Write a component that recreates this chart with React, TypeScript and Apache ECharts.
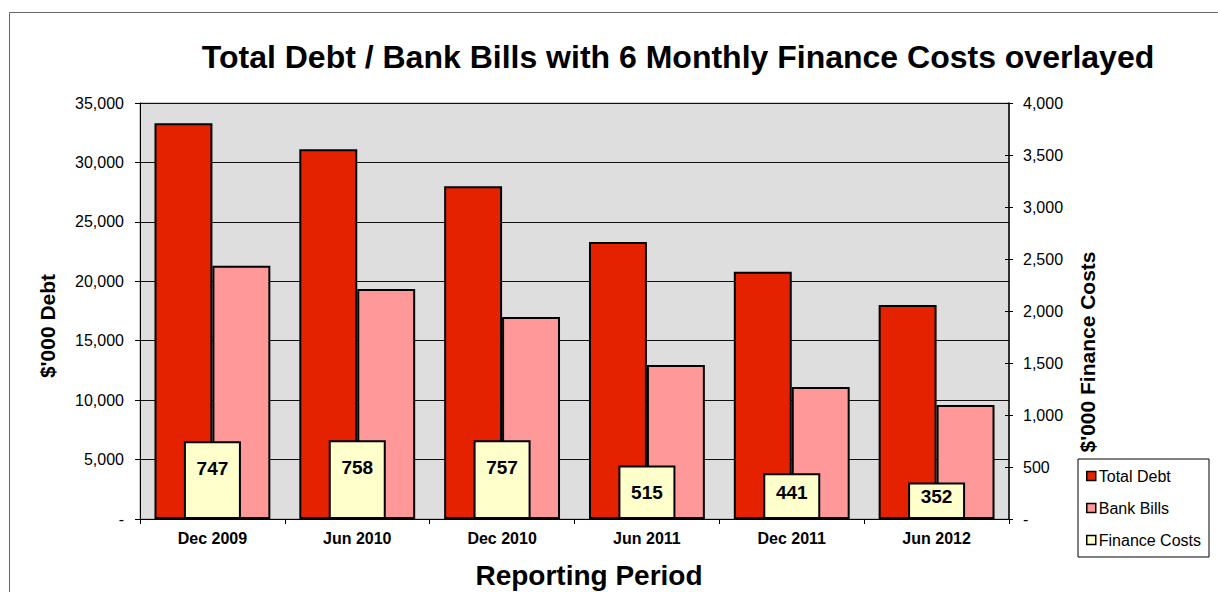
import React, { useEffect, useRef } from "react";
import * as echarts from "echarts";

const categories = ["Dec 2009", "Jun 2010", "Dec 2010", "Jun 2011", "Dec 2011", "Jun 2012"];
const totalDebt = [33300, 31100, 28000, 23300, 20800, 18000];
const bankBills = [21300, 19350, 17000, 12950, 11100, 9600];
const financeCosts = [747, 758, 757, 515, 441, 352];

const debtAxis = { min: 0, max: 35000, interval: 5000 };
const costAxis = { min: 0, max: 4000, interval: 500 };

const FONT = "'Liberation Sans', Arial, sans-serif";
const fmt = (v: number) => (v === 0 ? "-" : v.toLocaleString("en-US"));

export default function App() {
  const ref = useRef<HTMLDivElement>(null);

  useEffect(() => {
    if (!ref.current) return;
    const chart = echarts.init(ref.current, null, { renderer: "svg" });
    const option = {
      animation: false,
      textStyle: { fontFamily: FONT },
      grid: {
        left: 140,
        top: 103,
        right: 209,
        bottom: 73,
        show: true,
        backgroundColor: "#dedede",
        borderColor: "#999",
        borderWidth: 1,
      },
      legend: {
        orient: "vertical",
        left: 1078,
        top: 459,
        icon: "rect",
        itemWidth: 9,
        itemHeight: 9,
        itemGap: 14,
        padding: [8, 8, 8, 8],
        borderColor: "#000",
        borderWidth: 1,
        backgroundColor: "#fff",
        itemStyle: { borderColor: "#000", borderWidth: 1.5 },
        textStyle: { fontFamily: FONT, fontSize: 16, color: "#000", lineHeight: 18, padding: [0, 0, 0, -2] },
        data: ["Total Debt", "Bank Bills", "Finance Costs"],
      },
      xAxis: [
        {
          type: "category",
          data: categories,
          axisLine: { lineStyle: { color: "#000", width: 1 } },
          axisTick: { show: true, length: 5, lineStyle: { color: "#000" } },
          axisLabel: { fontFamily: FONT, fontSize: 16, fontWeight: "bold", color: "#000", margin: 11 },
        },
        { type: "category", data: categories, show: false },
      ],
      yAxis: [
        {
          type: "value",
          position: "left",
          ...debtAxis,
          axisLine: { show: true, lineStyle: { color: "#000", width: 1 } },
          axisTick: { show: true, length: 5, lineStyle: { color: "#000" } },
          axisLabel: { fontFamily: FONT, fontSize: 16, color: "#000", margin: 16, formatter: fmt },
          splitLine: { show: true, lineStyle: { color: "#111", width: 1 } },
        },
        {
          type: "value",
          position: "right",
          ...costAxis,
          axisLine: { show: true, lineStyle: { color: "#000", width: 1.5 } },
          axisTick: { show: true, length: 4, lineStyle: { color: "#000" } },
          axisLabel: { fontFamily: FONT, fontSize: 16, color: "#000", margin: 14, formatter: fmt },
          splitLine: { show: false },
        },
        {
          type: "value",
          position: "right",
          ...costAxis,
          axisLine: { show: false },
          axisTick: { show: true, inside: true, length: 4, lineStyle: { color: "#000" } },
          axisLabel: { show: false },
          splitLine: { show: false },
        },
      ],
      series: [
        {
          name: "Total Debt",
          type: "bar",
          xAxisIndex: 0,
          yAxisIndex: 0,
          data: totalDebt,
          barGap: "0%",
          barCategoryGap: "20%",
          itemStyle: { color: "#e52200", borderColor: "#000", borderWidth: 2 },
        },
        {
          name: "Bank Bills",
          type: "bar",
          xAxisIndex: 0,
          yAxisIndex: 0,
          data: bankBills,
          barGap: "0%",
          barCategoryGap: "20%",
          itemStyle: { color: "#ff9999", borderColor: "#000", borderWidth: 2 },
        },
        {
          name: "Finance Costs",
          type: "bar",
          xAxisIndex: 1,
          yAxisIndex: 1,
          barWidth: 57,
          data: financeCosts.map((v) => ({
            value: v,
            label: v >= 500 ? { position: "insideTop", distance: 18 } : { position: "inside", offset: [0, -4] },
          })),
          itemStyle: { color: "#ffffcc", borderColor: "#000", borderWidth: 2 },
          label: {
            show: true,
            fontFamily: FONT,
            fontSize: 19,
            fontWeight: "bold",
            color: "#000",
          },
        },
      ],
      graphic: [
        {
          type: "rect",
          z: -10,
          silent: true,
          shape: { x: 9.5, y: 12.5, width: 1400, height: 800 },
          style: { fill: "none", stroke: "#666", lineWidth: 1 },
        },
        {
          type: "text",
          x: 678,
          y: 57,
          style: {
            text: "Total Debt / Bank Bills with 6 Monthly Finance Costs overlayed",
            fontFamily: FONT,
            fontSize: 32,
            fontWeight: "bold",
            fill: "#000",
            textAlign: "center",
            textVerticalAlign: "middle",
          },
        },
        {
          type: "text",
          x: 589,
          y: 575,
          style: {
            text: "Reporting Period",
            fontFamily: FONT,
            fontSize: 28,
            fontWeight: "bold",
            fill: "#000",
            textAlign: "center",
            textVerticalAlign: "middle",
          },
        },
        {
          type: "text",
          x: 47,
          y: 326,
          rotation: Math.PI / 2,
          style: {
            text: "$'000 Debt",
            fontFamily: FONT,
            fontSize: 21,
            fontWeight: "bold",
            fill: "#000",
            textAlign: "center",
            textVerticalAlign: "middle",
          },
        },
        {
          type: "text",
          x: 1087,
          y: 352,
          rotation: Math.PI / 2,
          style: {
            text: "$'000 Finance Costs",
            fontFamily: FONT,
            fontSize: 21,
            fontWeight: "bold",
            fill: "#000",
            textAlign: "center",
            textVerticalAlign: "middle",
          },
        },
      ],
    };
    chart.setOption(option as any);
    return () => chart.dispose();
  }, []);

  return (
    <div
      ref={ref}
      style={{ position: "fixed", left: 0, top: 0, width: 1218, height: 592, background: "#fff" }}
    />
  );
}
